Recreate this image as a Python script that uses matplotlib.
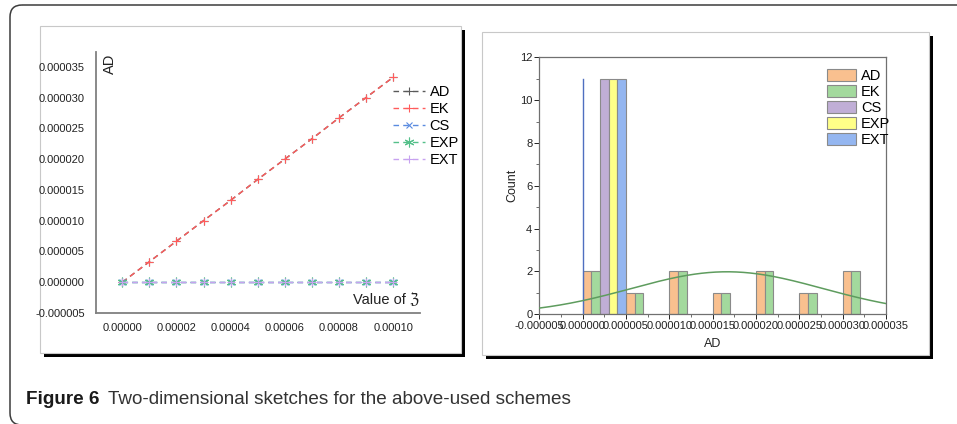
import numpy as np
import matplotlib
matplotlib.use("Agg")
import matplotlib.pyplot as plt
import matplotlib.transforms as mtransforms
from matplotlib.patches import FancyBboxPatch, Rectangle
from matplotlib.ticker import FormatStrFormatter, MultipleLocator

plt.rcParams['font.family'] = ['Liberation Sans', 'DejaVu Sans']

# ---------------- data (left chart) ----------------
zeta = [0.0, 0.00001, 0.00002, 0.00003, 0.00004, 0.00005, 0.00006, 0.00007, 0.00008, 0.00009, 0.00010]
AD = [0.0, 3.33e-6, 6.67e-6, 1.00e-5, 1.33e-5, 1.67e-5, 2.00e-5, 2.33e-5, 2.67e-5, 3.00e-5, 3.33e-5]
EK = [0.0, 3.33e-6, 6.67e-6, 1.00e-5, 1.33e-5, 1.67e-5, 2.00e-5, 2.33e-5, 2.67e-5, 3.00e-5, 3.33e-5]
CS = [0.0] * 11
EXP = [0.0] * 11
EXT = [0.0] * 11
series_names = ["AD", "EK", "CS", "EXP", "EXT"]

# ---------------- data (right chart, histogram counts) ----------------
bin_starts = [0.0, 0.000005, 0.000010, 0.000015, 0.000020, 0.000025, 0.000030]
bin_width = 0.000005
count_AD = [2, 1, 2, 1, 2, 1, 2]
count_EK = [2, 1, 2, 1, 2, 1, 2]
count_CS = [11, 0, 0, 0, 0, 0, 0]
count_EXP = [11, 0, 0, 0, 0, 0, 0]
count_EXT = [11, 0, 0, 0, 0, 0, 0]

W, H = 957, 424
fig = plt.figure(figsize=(W / 100, H / 100), dpi=100)
fig.patch.set_facecolor("white")
pix = mtransforms.Affine2D().scale(1, -1).translate(0, H)

# outer rounded frame
fig.patches.append(FancyBboxPatch((10, 5), 990, 420, boxstyle="round,pad=0,rounding_size=12",
                                  transform=pix, facecolor="none", edgecolor="#3c3c3c",
                                  linewidth=1.1, zorder=-5, figure=fig))
# panel shadows and panels
for (x0, y0, x1, y1) in [(40, 26, 461, 353), (482, 32, 929, 355)]:
    fig.patches.append(Rectangle((x0 + 4, y0 + 4), x1 - x0, y1 - y0, transform=pix,
                                 facecolor="black", edgecolor="none", zorder=-4, figure=fig))
    fig.patches.append(Rectangle((x0, y0), x1 - x0, y1 - y0, transform=pix,
                                 facecolor="white", edgecolor="#c8c8c8", linewidth=0.8,
                                 zorder=-3, figure=fig))

# ---------------- left chart ----------------
axL = fig.add_axes([96 / W, 1 - 313 / H, 324 / W, 261 / H])
axL.set_facecolor("none")
styles = {
    "AD": dict(color="#5a5a5a", marker="+", markersize=6),
    "EK": dict(color="#ff5c5c", marker="+", markersize=6),
    "CS": dict(color="#5a8be0", marker="x", markersize=5),
    "EXP": dict(color="#55c08a", marker=(6, 2, 0), markersize=7),
    "EXT": dict(color="#c7a2f0", marker="+", markersize=6),
}
data_left = {"AD": AD, "EK": EK, "CS": CS, "EXP": EXP, "EXT": EXT}
for name in series_names:
    st = styles[name]
    axL.plot(zeta, data_left[name], linestyle=(0, (4, 3)), linewidth=1.0,
             color=st["color"], marker=st["marker"], markersize=st["markersize"],
             markeredgewidth=0.8, label=name)
axL.set_xlim(-0.0000097, 0.0001099)
axL.set_ylim(-0.000005, 0.0000374)
axL.set_xticks([0, 0.00002, 0.00004, 0.00006, 0.00008, 0.00010])
axL.set_yticks([-0.000005, 0, 0.000005, 0.00001, 0.000015, 0.00002, 0.000025, 0.00003, 0.000035])
axL.xaxis.set_major_formatter(FormatStrFormatter("%.5f"))
axL.yaxis.set_major_formatter(FormatStrFormatter("%.6f"))
axL.tick_params(axis="both", length=0, labelsize=8, colors="#222222")
axL.tick_params(axis="y", pad=8)
axL.tick_params(axis="x", pad=7)
for s in ["top", "right"]:
    axL.spines[s].set_visible(False)
for s in ["left", "bottom"]:
    axL.spines[s].set_color("#808080")
    axL.spines[s].set_linewidth(1.3)
axL.text(0.043, 0.955, "AD", transform=axL.transAxes, rotation=90, ha="center", va="center",
         fontsize=10.5, color="#222222")
axL.text(0.895, 0.05, "Value of \u2128", transform=axL.transAxes, ha="center", va="center",
         fontsize=10.5, color="#222222")
axL.legend(loc="upper left", bbox_to_anchor=(0.895, 0.90), frameon=False, fontsize=10.5,
           handlelength=2.2, handletextpad=0.3, labelspacing=0.2, borderpad=0, numpoints=1)

# ---------------- right chart ----------------
axR = fig.add_axes([539.3 / W, 1 - 314.3 / H, 346.7 / W, 257 / H])
hist_counts = {"AD": count_AD, "EK": count_EK, "CS": count_CS, "EXP": count_EXP, "EXT": count_EXT}
bar_colors = {"AD": "#f9c08f", "EK": "#a3d99d", "CS": "#c0aed6", "EXP": "#ffff88", "EXT": "#94b6f0"}
sub_w = bin_width / len(series_names)
for i, name in enumerate(series_names):
    xs = [b + i * sub_w for b, c in zip(bin_starts, hist_counts[name]) if c > 0]
    hs = [c for c in hist_counts[name] if c > 0]
    axR.bar(xs, hs, width=sub_w, align="edge", color=bar_colors[name], edgecolor="#8a8a8a",
            linewidth=0.8, label=name, zorder=2)

# spike for the zero-variance schemes
axR.plot([np.mean(CS), np.mean(CS)], [0, len(CS)], color="#4f6fc0", linewidth=1.0, zorder=3)
# normal fit curve of EK
ek = np.array(EK)
mu, sd = ek.mean(), ek.std(ddof=1)
xc = np.linspace(-0.000005, 0.000035, 300)
yc = len(ek) * bin_width / (sd * np.sqrt(2 * np.pi)) * np.exp(-0.5 * ((xc - mu) / sd) ** 2)
axR.plot(xc, yc, color="#5e9c5e", linewidth=1.1, zorder=4)

axR.set_xlim(-0.000005, 0.000035)
axR.set_ylim(0, 12)
axR.xaxis.set_major_locator(MultipleLocator(0.000005))
axR.xaxis.set_minor_locator(MultipleLocator(0.0000025))
axR.yaxis.set_major_locator(MultipleLocator(2))
axR.yaxis.set_minor_locator(MultipleLocator(1))
axR.xaxis.set_major_formatter(FormatStrFormatter("%.6f"))
axR.tick_params(axis="both", which="major", direction="out", length=3.5, width=0.7,
                labelsize=8, colors="#222222", pad=1.5)
axR.tick_params(axis="both", which="minor", direction="out", length=2, width=0.6, colors="#555555")
for s in axR.spines.values():
    s.set_color("#707070")
    s.set_linewidth(0.9)
axR.set_xlabel("AD", fontsize=9, labelpad=5, color="#222222")
axR.set_ylabel("Count", fontsize=9, labelpad=1, color="#222222")
axR.legend(loc="upper left", bbox_to_anchor=(0.81, 0.982), frameon=False, fontsize=10.5,
           handlelength=1.95, handleheight=0.9, handletextpad=0.35, labelspacing=0.12, borderpad=0)

# ---------------- caption ----------------
t1 = fig.text(26 / W, 1 - 400 / H, "Figure 6", fontsize=13.6, fontweight="bold", color="#1a1a1a",
              ha="left", va="center")
r = fig.canvas.get_renderer()
bb = t1.get_window_extent(renderer=r)
fig.text((bb.x1 + 9) / W, 1 - 400 / H, "Two-dimensional sketches for the above-used schemes",
         fontsize=13.6, color="#333333", ha="left", va="center")

fig.savefig("out.png", dpi=100)
